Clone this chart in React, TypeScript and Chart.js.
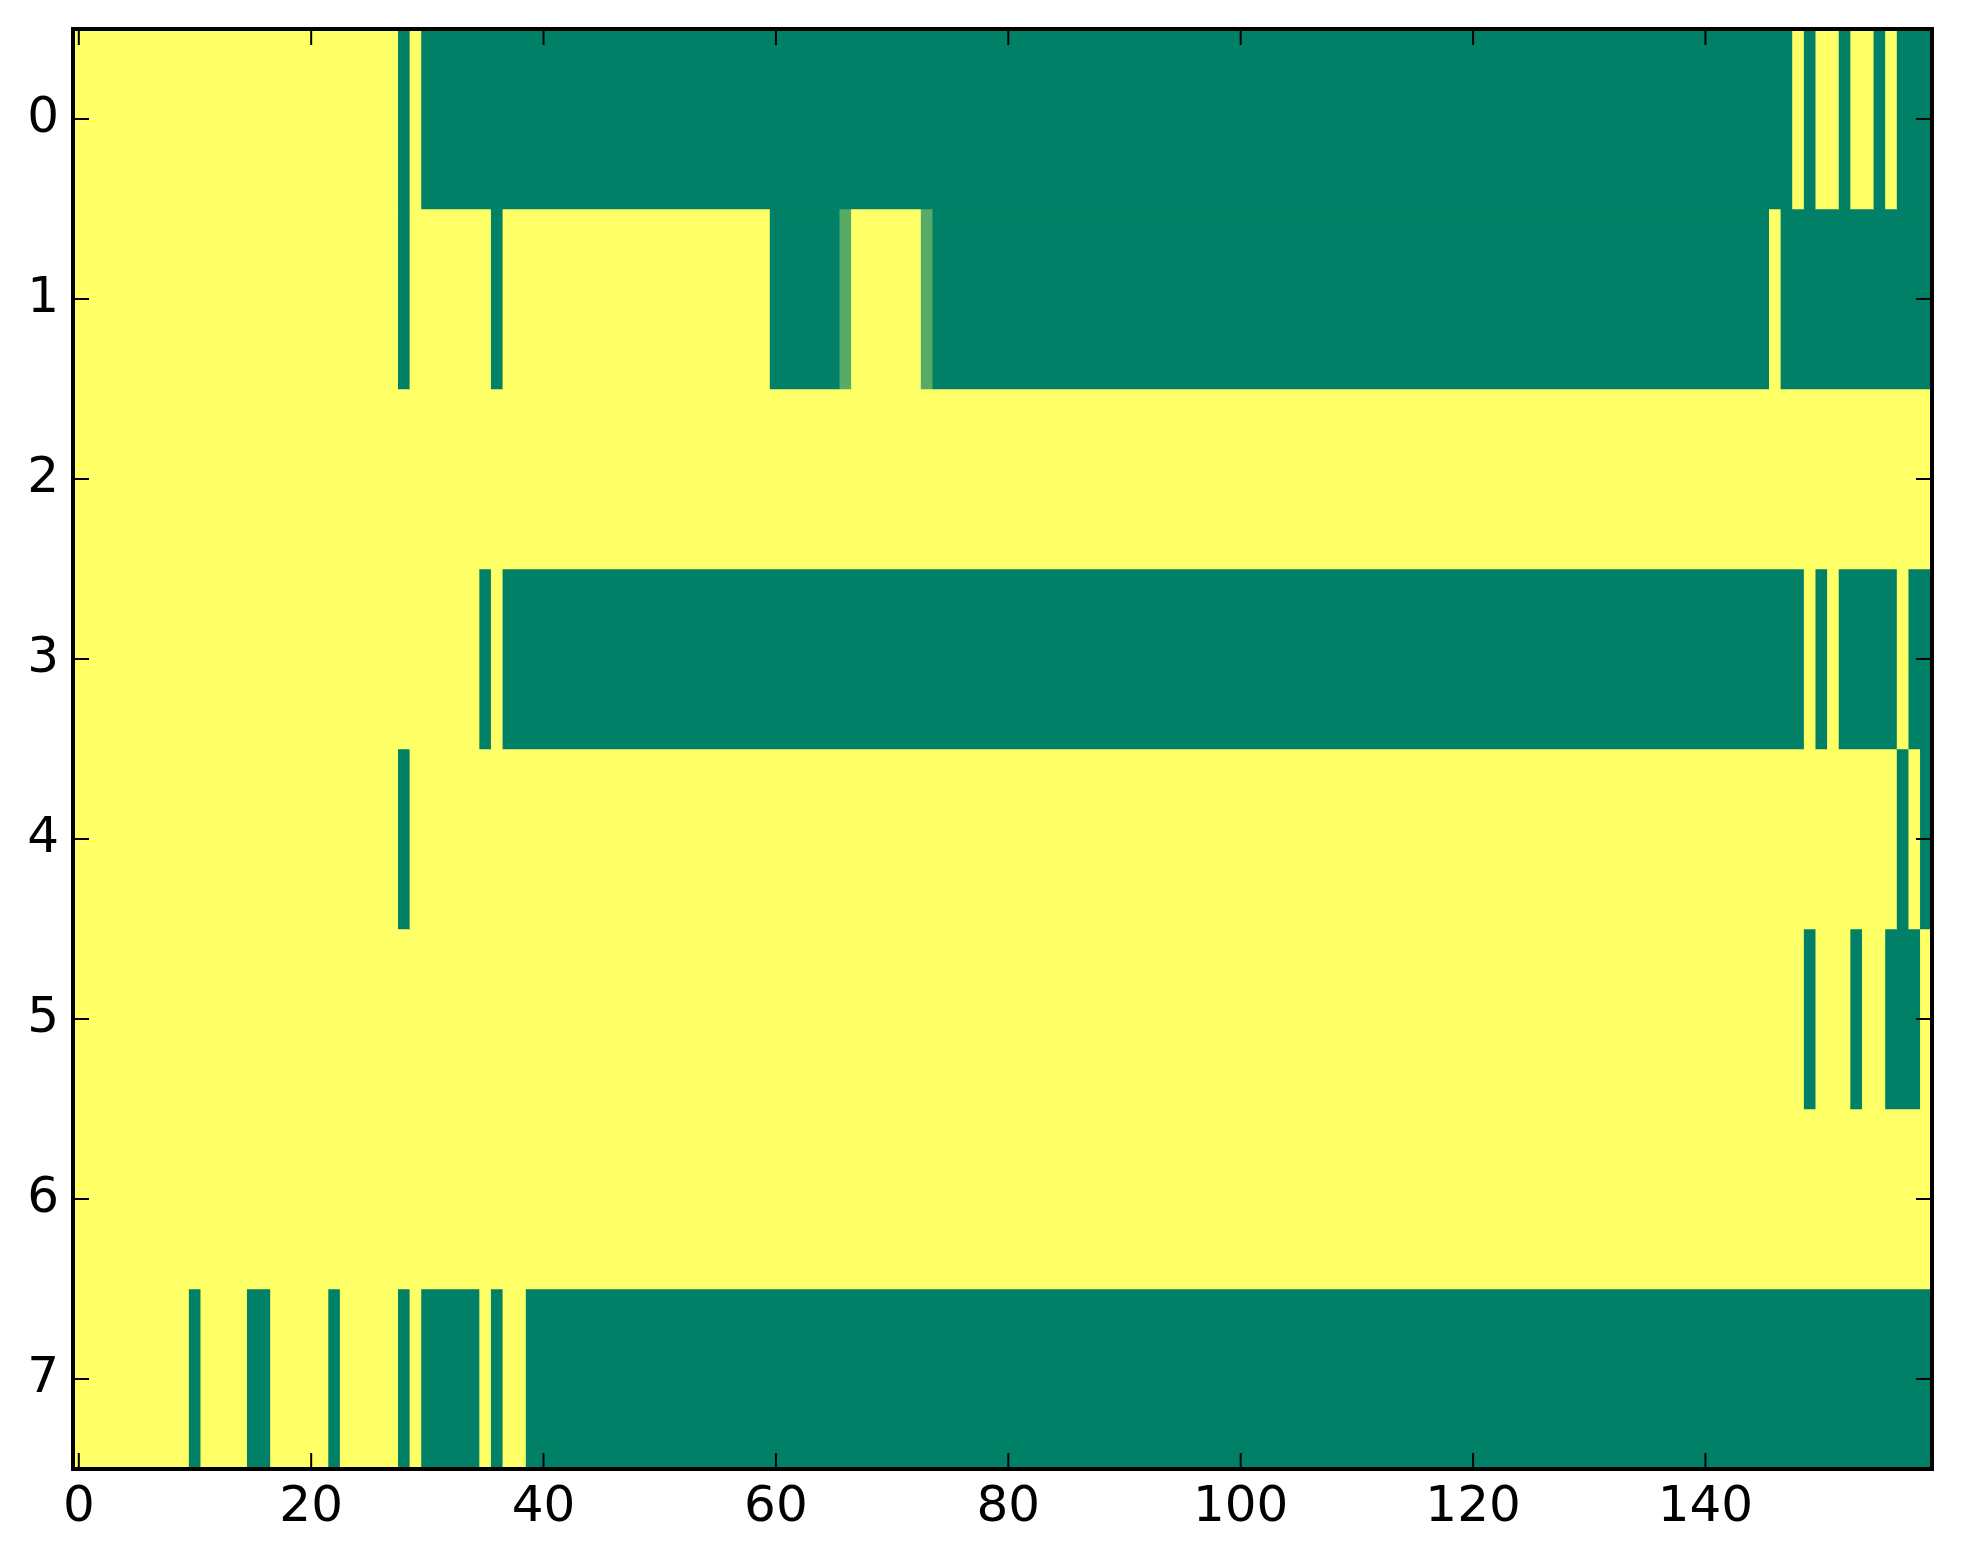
import React, { useEffect, useRef } from "react";
import { Chart, registerables } from "chart.js";

Chart.register(...registerables);

// Row labels (y axis, top to bottom) and x tick labels
const rowLabels = ["0", "1", "2", "3", "4", "5", "6", "7"];
const xTickValues = [0, 20, 40, 60, 80, 100, 120, 140];

// Cell values per row, columns 0..159 (0 = yellow, 1 = green)
const row0 = [
  0,0,0,0,0,0,0,0,0,0,0,0,0,0,0,0,0,0,0,0,
  0,0,0,0,0,0,0,0,1,0,1,1,1,1,1,1,1,1,1,1,
  1,1,1,1,1,1,1,1,1,1,1,1,1,1,1,1,1,1,1,1,
  1,1,1,1,1,1,1,1,1,1,1,1,1,1,1,1,1,1,1,1,
  1,1,1,1,1,1,1,1,1,1,1,1,1,1,1,1,1,1,1,1,
  1,1,1,1,1,1,1,1,1,1,1,1,1,1,1,1,1,1,1,1,
  1,1,1,1,1,1,1,1,1,1,1,1,1,1,1,1,1,1,1,1,
  1,1,1,1,1,1,1,1,0,1,0,0,1,0,0,1,0,1,1,1,
];
const row1 = [
  0,0,0,0,0,0,0,0,0,0,0,0,0,0,0,0,0,0,0,0,
  0,0,0,0,0,0,0,0,1,0,0,0,0,0,0,0,1,0,0,0,
  0,0,0,0,0,0,0,0,0,0,0,0,0,0,0,0,0,0,0,0,
  1,1,1,1,1,1,0.66,0,0,0,0,0,0,0.66,1,1,1,1,1,1,
  1,1,1,1,1,1,1,1,1,1,1,1,1,1,1,1,1,1,1,1,
  1,1,1,1,1,1,1,1,1,1,1,1,1,1,1,1,1,1,1,1,
  1,1,1,1,1,1,1,1,1,1,1,1,1,1,1,1,1,1,1,1,
  1,1,1,1,1,1,0,1,1,1,1,1,1,1,1,1,1,1,1,1,
];
const row2 = [
  0,0,0,0,0,0,0,0,0,0,0,0,0,0,0,0,0,0,0,0,
  0,0,0,0,0,0,0,0,0,0,0,0,0,0,0,0,0,0,0,0,
  0,0,0,0,0,0,0,0,0,0,0,0,0,0,0,0,0,0,0,0,
  0,0,0,0,0,0,0,0,0,0,0,0,0,0,0,0,0,0,0,0,
  0,0,0,0,0,0,0,0,0,0,0,0,0,0,0,0,0,0,0,0,
  0,0,0,0,0,0,0,0,0,0,0,0,0,0,0,0,0,0,0,0,
  0,0,0,0,0,0,0,0,0,0,0,0,0,0,0,0,0,0,0,0,
  0,0,0,0,0,0,0,0,0,0,0,0,0,0,0,0,0,0,0,0,
];
const row3 = [
  0,0,0,0,0,0,0,0,0,0,0,0,0,0,0,0,0,0,0,0,
  0,0,0,0,0,0,0,0,0,0,0,0,0,0,0,1,0,1,1,1,
  1,1,1,1,1,1,1,1,1,1,1,1,1,1,1,1,1,1,1,1,
  1,1,1,1,1,1,1,1,1,1,1,1,1,1,1,1,1,1,1,1,
  1,1,1,1,1,1,1,1,1,1,1,1,1,1,1,1,1,1,1,1,
  1,1,1,1,1,1,1,1,1,1,1,1,1,1,1,1,1,1,1,1,
  1,1,1,1,1,1,1,1,1,1,1,1,1,1,1,1,1,1,1,1,
  1,1,1,1,1,1,1,1,1,0,1,0,1,1,1,1,1,0,1,1,
];
const row4 = [
  0,0,0,0,0,0,0,0,0,0,0,0,0,0,0,0,0,0,0,0,
  0,0,0,0,0,0,0,0,1,0,0,0,0,0,0,0,0,0,0,0,
  0,0,0,0,0,0,0,0,0,0,0,0,0,0,0,0,0,0,0,0,
  0,0,0,0,0,0,0,0,0,0,0,0,0,0,0,0,0,0,0,0,
  0,0,0,0,0,0,0,0,0,0,0,0,0,0,0,0,0,0,0,0,
  0,0,0,0,0,0,0,0,0,0,0,0,0,0,0,0,0,0,0,0,
  0,0,0,0,0,0,0,0,0,0,0,0,0,0,0,0,0,0,0,0,
  0,0,0,0,0,0,0,0,0,0,0,0,0,0,0,0,0,1,0,1,
];
const row5 = [
  0,0,0,0,0,0,0,0,0,0,0,0,0,0,0,0,0,0,0,0,
  0,0,0,0,0,0,0,0,0,0,0,0,0,0,0,0,0,0,0,0,
  0,0,0,0,0,0,0,0,0,0,0,0,0,0,0,0,0,0,0,0,
  0,0,0,0,0,0,0,0,0,0,0,0,0,0,0,0,0,0,0,0,
  0,0,0,0,0,0,0,0,0,0,0,0,0,0,0,0,0,0,0,0,
  0,0,0,0,0,0,0,0,0,0,0,0,0,0,0,0,0,0,0,0,
  0,0,0,0,0,0,0,0,0,0,0,0,0,0,0,0,0,0,0,0,
  0,0,0,0,0,0,0,0,0,1,0,0,0,1,0,0,1,1,1,0,
];
const row6 = [
  0,0,0,0,0,0,0,0,0,0,0,0,0,0,0,0,0,0,0,0,
  0,0,0,0,0,0,0,0,0,0,0,0,0,0,0,0,0,0,0,0,
  0,0,0,0,0,0,0,0,0,0,0,0,0,0,0,0,0,0,0,0,
  0,0,0,0,0,0,0,0,0,0,0,0,0,0,0,0,0,0,0,0,
  0,0,0,0,0,0,0,0,0,0,0,0,0,0,0,0,0,0,0,0,
  0,0,0,0,0,0,0,0,0,0,0,0,0,0,0,0,0,0,0,0,
  0,0,0,0,0,0,0,0,0,0,0,0,0,0,0,0,0,0,0,0,
  0,0,0,0,0,0,0,0,0,0,0,0,0,0,0,0,0,0,0,0,
];
const row7 = [
  0,0,0,0,0,0,0,0,0,0,1,0,0,0,0,1,1,0,0,0,
  0,0,1,0,0,0,0,0,1,0,1,1,1,1,1,0,1,0,0,1,
  1,1,1,1,1,1,1,1,1,1,1,1,1,1,1,1,1,1,1,1,
  1,1,1,1,1,1,1,1,1,1,1,1,1,1,1,1,1,1,1,1,
  1,1,1,1,1,1,1,1,1,1,1,1,1,1,1,1,1,1,1,1,
  1,1,1,1,1,1,1,1,1,1,1,1,1,1,1,1,1,1,1,1,
  1,1,1,1,1,1,1,1,1,1,1,1,1,1,1,1,1,1,1,1,
  1,1,1,1,1,1,1,1,1,1,1,1,1,1,1,1,1,1,1,1,
];

const rows = [row0, row1, row2, row3, row4, row5, row6, row7];

// matplotlib "summer_r" colormap
function summerR(v: number): string {
  const t = 1 - v;
  const r = Math.round(255 * t);
  const g = Math.round(255 * (0.5 + 0.5 * t));
  const b = Math.round(255 * 0.4);
  return `rgb(${r},${g},${b})`;
}

// merge neighbouring equal cells into one floating bar
function runsOf(values: number[]) {
  const out: { start: number; end: number; value: number }[] = [];
  values.forEach((v, i) => {
    const last = out[out.length - 1];
    if (last && last.value === v) last.end = i;
    else out.push({ start: i, end: i, value: v });
  });
  return out;
}

const framePlugin = {
  id: "mplFrame",
  afterDatasetsDraw(chart: any) {
    const { ctx, chartArea, scales } = chart;
    const { left, right, top, bottom } = chartArea;
    const x = scales.x;
    const y = scales.y;
    const len = 16;
    ctx.save();
    ctx.strokeStyle = "#000";
    ctx.lineWidth = 2;
    ctx.beginPath();
    xTickValues.forEach((v) => {
      const px = x.getPixelForValue(v);
      ctx.moveTo(px, bottom);
      ctx.lineTo(px, bottom - len);
      ctx.moveTo(px, top);
      ctx.lineTo(px, top + len);
    });
    rowLabels.forEach((_, i) => {
      const py = y.getPixelForValue(i);
      ctx.moveTo(left, py);
      ctx.lineTo(left + len, py);
      ctx.moveTo(right, py);
      ctx.lineTo(right - len, py);
    });
    ctx.stroke();
    ctx.lineWidth = 4;
    ctx.strokeRect(left, top, right - left, bottom - top);
    ctx.restore();
  },
};

export default function App() {
  const canvasRef = useRef<HTMLCanvasElement | null>(null);

  useEffect(() => {
    if (!canvasRef.current) return;
    const datasets = rows.map((vals, r) => {
      const runs = runsOf(vals);
      return {
        label: rowLabels[r],
        data: runs.map((run) => ({ x: [run.start - 0.5, run.end + 0.5], y: rowLabels[r] })),
        backgroundColor: runs.map((run) => summerR(run.value)),
        borderWidth: 0,
        borderSkipped: false,
        grouped: false,
        barPercentage: 1,
        categoryPercentage: 1,
      };
    });

    const font = { family: "'DejaVu Sans', sans-serif", size: 50 };

    const chart = new Chart(canvasRef.current, {
      type: "bar",
      data: { labels: rowLabels, datasets: datasets as any },
      plugins: [framePlugin],
      options: {
        animation: false,
        responsive: true,
        maintainAspectRatio: false,
        indexAxis: "y",
        events: [],
        layout: { padding: { left: 0, right: 31, top: 29, bottom: 0 } },
        plugins: {
          legend: { display: false },
          tooltip: { enabled: false },
          title: { display: false },
        },
        scales: {
          x: {
            type: "linear",
            min: -0.5,
            max: 159.5,
            grid: { display: false, drawTicks: false },
            border: { display: false },
            afterBuildTicks: (s: any) => {
              s.ticks = xTickValues.map((v) => ({ value: v }));
            },
            afterFit: (s: any) => {
              s.height = 95;
              s.paddingLeft = 0;
              s.paddingRight = 0;
            },
            ticks: {
              color: "#000",
              font,
              padding: 9,
              maxRotation: 0,
              autoSkip: false,
            },
          },
          y: {
            type: "category",
            labels: rowLabels,
            offset: true,
            grid: { display: false, drawTicks: false },
            border: { display: false },
            afterFit: (s: any) => {
              s.width = 73;
              s.paddingTop = 0;
              s.paddingBottom = 0;
            },
            ticks: {
              color: "#000",
              font,
              padding: 14,
              autoSkip: false,
            },
          },
        },
      } as any,
    });
    return () => chart.destroy();
  }, []);

  return (
    <div
      style={{
        position: "absolute",
        left: 0,
        top: 0,
        width: 1963,
        height: 1564,
        background: "#fff",
      }}
    >
      <canvas ref={canvasRef} />
    </div>
  );
}
